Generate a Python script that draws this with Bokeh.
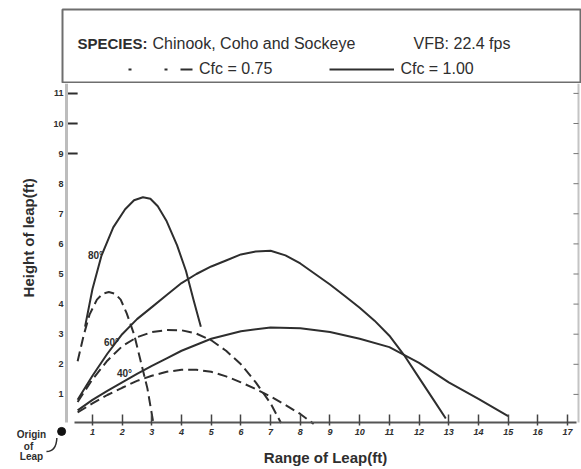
import math
from bokeh.plotting import figure
from bokeh.models import (Range1d, FixedTicker, Label, Legend, LegendItem, BoxAnnotation)
from bokeh.layouts import column
from bokeh.embed import file_html
from bokeh.resources import INLINE
from bokeh.core.properties import value

# ---------------- data (feet) ----------------
x_ticks = list(range(1, 18))
y_ticks = list(range(1, 12))
y_arrow_ticks = [9, 10, 11]

# Cfc = 1.00 (solid)
s80_x = [0.75, 1.0, 1.3, 1.7, 2.1, 2.4, 2.7, 2.95, 3.2, 3.5, 3.85, 4.15, 4.4, 4.65]
s80_y = [3.25, 4.5, 5.6, 6.55, 7.15, 7.45, 7.55, 7.5, 7.25, 6.75, 5.95, 5.1, 4.15, 3.25]

s60_x = [0.5, 1.0, 1.5, 2.0, 2.5, 3.0, 3.5, 4.0, 4.5, 5.0, 5.5, 6.0, 6.5, 7.0, 7.5,
         8.0, 8.5, 9.0, 9.5, 10.0, 10.5, 11.0, 11.5, 12.0, 12.5, 12.9]
s60_y = [0.82, 1.62, 2.35, 3.0, 3.5, 3.9, 4.3, 4.7, 5.0, 5.25, 5.45, 5.65, 5.75, 5.77, 5.62,
         5.35, 5.0, 4.65, 4.27, 3.88, 3.45, 2.95, 2.3, 1.55, 0.8, 0.2]

s40_x = [0.5, 1.0, 1.5, 2.0, 2.5, 3.0, 3.5, 4.0, 5.0, 6.0, 7.0, 8.0, 9.0, 10.0, 11.0,
         12.0, 13.0, 14.0, 15.0]
s40_y = [0.47, 0.82, 1.12, 1.40, 1.68, 1.95, 2.2, 2.45, 2.85, 3.1, 3.22, 3.2, 3.07, 2.85, 2.57,
         2.05, 1.4, 0.85, 0.28]

# Cfc = 0.75 (dashed)
d80_x = [0.5, 0.7, 0.9, 1.15, 1.35, 1.55, 1.75, 1.95, 2.15, 2.4, 2.6, 2.85, 3.05]
d80_y = [2.1, 2.95, 3.65, 4.15, 4.35, 4.4, 4.35, 4.15, 3.7, 3.0, 2.2, 1.2, 0.05]

d60_x = [0.5, 1.0, 1.5, 2.0, 2.5, 3.0, 3.5, 4.0, 4.5, 5.0, 5.5, 6.0, 6.5, 7.0, 7.35]
d60_y = [0.75, 1.5, 2.12, 2.6, 2.9, 3.07, 3.14, 3.13, 3.02, 2.8, 2.45, 2.0, 1.4, 0.7, 0.05]

d40_x = [0.5, 1.0, 1.5, 2.0, 2.5, 3.0, 3.5, 4.0, 4.5, 5.0, 5.5, 6.0, 6.5, 7.0, 7.5, 8.0, 8.45]
d40_y = [0.4, 0.7, 0.98, 1.22, 1.45, 1.62, 1.75, 1.82, 1.82, 1.75, 1.6, 1.4, 1.18, 0.93, 0.65,
         0.35, 0.02]

angle_labels = ["80°", "60°", "40°"]
angle_label_x = [1.1, 1.64, 2.08]
angle_label_y = [5.6, 2.72, 1.69]

origin_x = [-0.04]
origin_y = [-0.23]
origin_text = ["Origin", "of", "Leap"]
origin_text_x = [-1.054, -1.155, -1.054]
origin_text_y = [-0.33, -0.72, -1.063]

# plot extents (ft)
X_LO, X_HI = -1.559, 17.471
Y_LO, Y_HI = -1.495, 11.329
X_AXIS_AT, Y_AXIS_AT = 0.066, 0.125
X_RIGHT = 17.37

INK = "#2e2e2e"
FONT = "Liberation Sans"

# ---------------- header box (coordinates in page pixels) ----------------
h = figure(width=581, height=83, x_range=Range1d(16, 581), y_range=Range1d(83, 0),
           min_border_left=16, min_border_right=0, min_border_top=0, min_border_bottom=0,
           x_axis_location=None, y_axis_location=None, toolbar_location=None,
           output_backend="svg")
h.grid.visible = False
h.outline_line_color = None
h.add_layout(BoxAnnotation(left=62, right=580, top=9, bottom=82, fill_alpha=0,
                           line_color="#6e6e6e", line_width=2, line_alpha=1))

h.add_layout(Label(x=77, y=43, text="SPECIES:", text_font=FONT, text_font_style="bold",
                   text_font_size="15px", text_color=INK, text_baseline="middle"))
h.add_layout(Label(x=152, y=43, text="Chinook, Coho and Sockeye", text_font=FONT,
                   text_font_size="16px", text_color=INK, text_baseline="middle"))
h.add_layout(Label(x=413, y=43, text="VFB: 22.4 fps", text_font=FONT,
                   text_font_size="16px", text_color=INK, text_baseline="middle"))

r_dash = h.line(x=[0, 1], y=[0, 0], line_color=INK, line_width=2, line_dash="3 33 3 13 12 10")
r_solid = h.line(x=[0, 1], y=[0, 0], line_color=INK, line_width=2)
leg = Legend(items=[LegendItem(label="Cfc = 0.75", renderers=[r_dash]),
                    LegendItem(label="Cfc = 1.00", renderers=[r_solid])],
             orientation="horizontal", location=(112, 4), glyph_width=65, glyph_height=20,
             label_height=20, label_standoff=6, spacing=57, padding=0, margin=0,
             border_line_color=None, background_fill_alpha=0,
             label_text_font=FONT, label_text_font_size="16px", label_text_color=INK)
h.add_layout(leg)

# ---------------- main plot ----------------
p = figure(width=581, height=386, x_range=Range1d(X_LO, X_HI), y_range=Range1d(Y_LO, Y_HI),
           min_border_left=16, min_border_right=0, min_border_top=0, min_border_bottom=0,
           toolbar_location=None, output_backend="svg")
p.grid.visible = False
p.outline_line_color = None

xa = p.xaxis[0]
xa.fixed_location = X_AXIS_AT
xa.bounds = (0.4, 17.3)
xa.ticker = FixedTicker(ticks=x_ticks)
xa.axis_line_color = "#555555"
xa.axis_line_width = 2
xa.major_tick_in = 8
xa.major_tick_out = 3
xa.major_tick_line_color = "#444444"
xa.major_tick_line_width = 1.5
xa.minor_tick_line_color = None
xa.major_label_text_font = FONT
xa.major_label_text_font_size = "9px"
xa.major_label_text_font_style = "bold italic"
xa.major_label_text_color = INK
xa.major_label_standoff = 3
xa.axis_label = "Range of Leap(ft)"
xa.axis_label_text_font = FONT
xa.axis_label_text_font_size = "15px"
xa.axis_label_text_font_style = "bold"
xa.axis_label_text_color = INK
xa.axis_label_standoff = 11

ya = p.yaxis[0]
ya.fixed_location = Y_AXIS_AT
ya.bounds = (X_AXIS_AT, Y_HI)
ya.ticker = FixedTicker(ticks=y_ticks)
ya.axis_line_color = "#bdbdbd"
ya.axis_line_width = 3
ya.major_tick_in = 0
ya.major_tick_out = 0
ya.minor_tick_line_color = None
ya.major_label_text_font = FONT
ya.major_label_text_font_size = "9px"
ya.major_label_text_font_style = "bold"
ya.major_label_text_color = INK
ya.major_label_standoff = 3

# y-axis title
p.text(x=[-1.155], y=[6.2], text=["Height of leap(ft)"], angle=math.pi / 2,
       text_font=value(FONT), text_font_size="15px", text_font_style="bold",
       text_color=INK, text_align="center", text_baseline="middle")

# right border with inward ticks
p.segment(x0=[X_RIGHT], x1=[X_RIGHT], y0=[X_AXIS_AT], y1=[Y_HI],
          line_color="#c4c4c4", line_width=2)
p.segment(x0=[X_RIGHT - 0.17] * len(y_ticks), x1=[X_RIGHT] * len(y_ticks),
          y0=y_ticks, y1=y_ticks, line_color="#777777", line_width=1)

# small arrow-like ticks at 9, 10, 11 on the left axis
p.segment(x0=[Y_AXIS_AT] * len(y_arrow_ticks), x1=[0.5] * len(y_arrow_ticks),
          y0=y_arrow_ticks, y1=y_arrow_ticks, line_color=INK, line_width=2)

for xs, ys in [(s80_x, s80_y), (s60_x, s60_y), (s40_x, s40_y)]:
    p.line(xs, ys, line_color=INK, line_width=2)
for xs, ys in [(d80_x, d80_y), (d60_x, d60_y), (d40_x, d40_y)]:
    p.line(xs, ys, line_color=INK, line_width=2, line_dash="10 5")

p.text(x=angle_label_x, y=angle_label_y, text=angle_labels, text_font=value(FONT),
       text_font_size="10px", text_font_style="bold", text_color=INK,
       text_align="center", text_baseline="middle")

# origin of leap marker
p.scatter(x=origin_x, y=origin_y, size=8, color="#111111")
p.text(x=origin_text_x, y=origin_text_y, text=origin_text, text_font=value(FONT),
       text_font_size="10px", text_font_style="bold", text_color=INK,
       text_align="center", text_baseline="middle")
p.quadratic(x0=[-0.55], y0=[-0.9], x1=[-0.2], y1=[-0.45], cx=[-0.22], cy=[-0.9],
            line_color=INK, line_width=1.5)

layout = column(h, p, spacing=0)
open("out.html", "w").write(file_html(layout, INLINE))
